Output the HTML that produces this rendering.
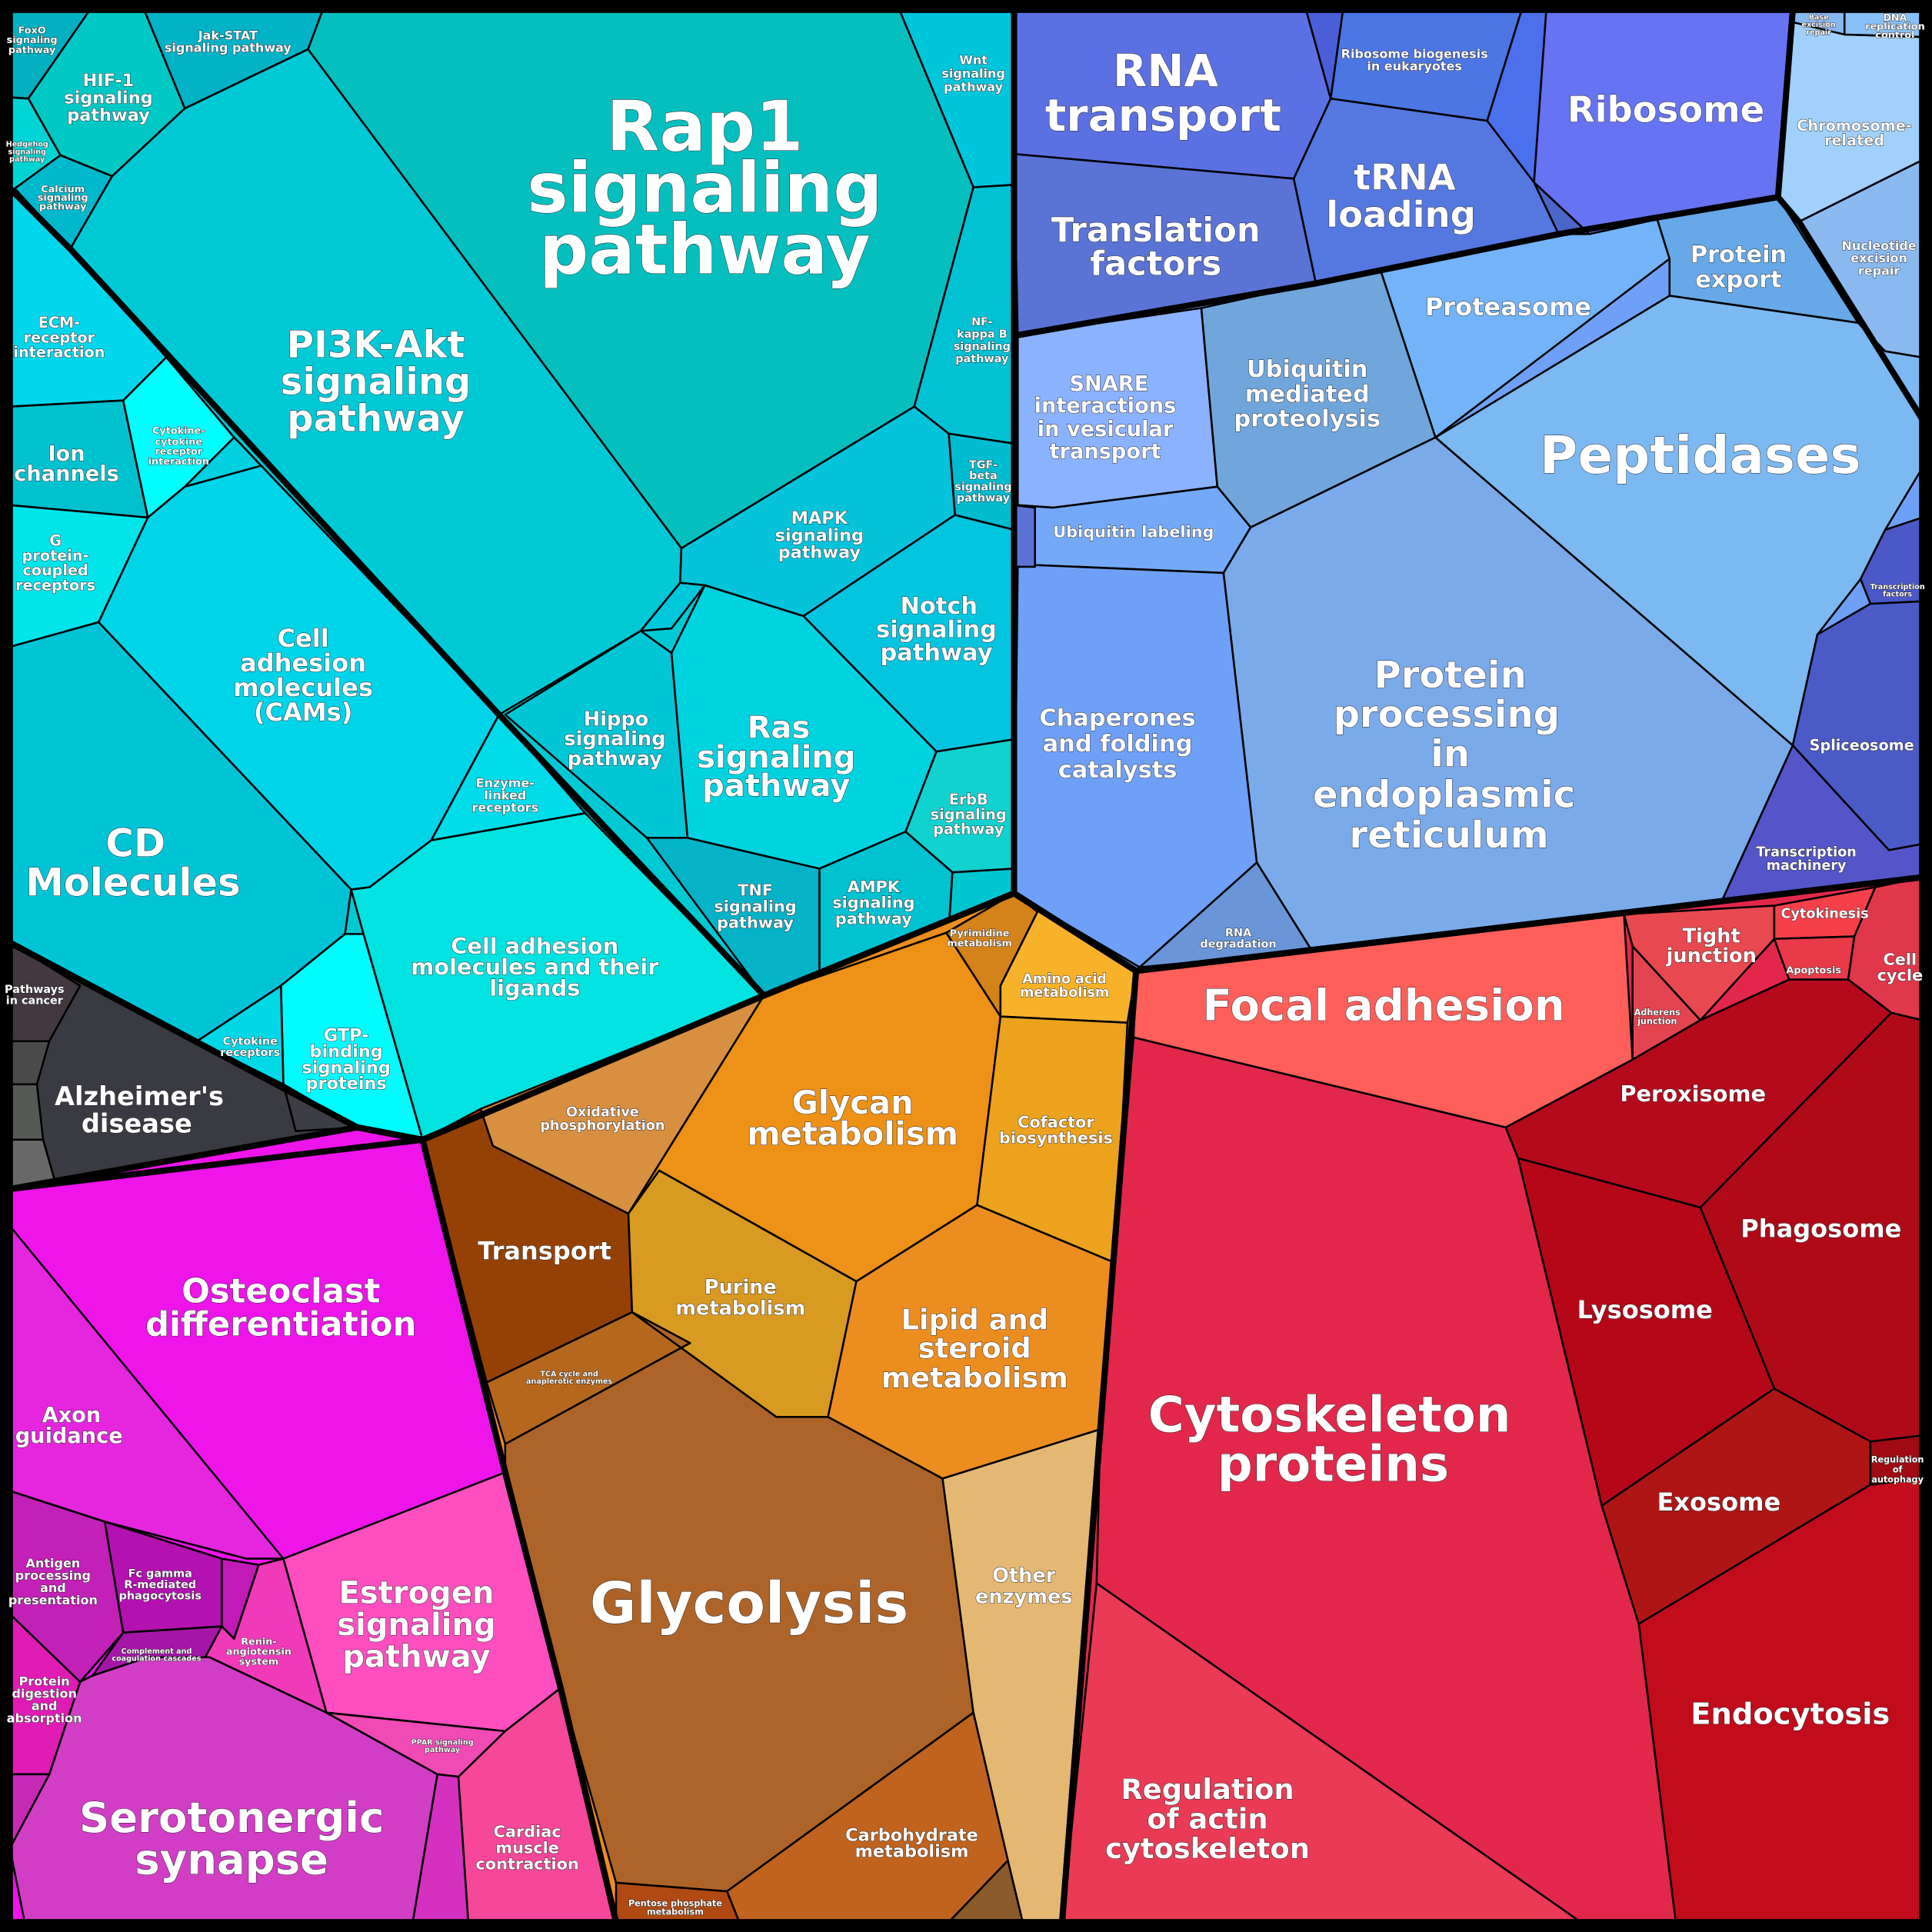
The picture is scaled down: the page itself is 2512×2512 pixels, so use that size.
<!DOCTYPE html>
<html><head><meta charset="utf-8"><style>
html,body{margin:0;padding:0;background:#000;}
svg{display:block;}
text{font-family:"DejaVu Sans","Liberation Sans",sans-serif;font-weight:bold;fill:#fff;text-anchor:middle;paint-order:stroke;stroke:#222;stroke-width:0.6;}
.c{stroke:#000;stroke-width:1.6;stroke-linejoin:round;}
.g{fill:none;stroke:#000;stroke-width:5;stroke-linejoin:round;}
</style></head><body>
<svg width="2512" height="2512" viewBox="0 0 1568 1568" xmlns="http://www.w3.org/2000/svg">
<rect x="0" y="0" width="1568" height="1568" fill="#000"/>
<!-- CYAN -->
<g class="c">
<polygon fill="#00c9d3" points="8,8 823,8 823,725 620,808 343,925 8,765"/>
<polygon fill="#03b0c0" points="8,8 73,8 23,80 8,79"/>
<polygon fill="#00c8c4" points="73,8 117,8 150,88 91,143 49,126 23,80"/>
<polygon fill="#02b2c6" points="117,8 262,8 250,40 150,88"/>
<polygon fill="#00d4d4" points="8,79 23,80 49,126 12,153 8,153"/>
<polygon fill="#00b8cc" points="12,153 49,126 91,143 57,202"/>
<polygon fill="#05bfbf" points="262,8 730,8 790,152 742,330 553,445 250,40"/>
<polygon fill="#00c9d6" points="57,202 91,143 150,88 250,40 553,445 552,473 520,512 405,580"/>
<polygon fill="#00c6dc" points="730,8 823,8 823,150 790,152"/>
<polygon fill="#00c2d4" points="790,152 823,150 823,360 770,352 742,330"/>
<polygon fill="#00bcd0" points="770,352 823,360 823,430 775,418"/>
<polygon fill="#05c3db" points="553,445 742,330 770,352 775,418 652,500 572,475 552,473"/>
<polygon fill="#00c8dc" points="552,473 572,475 545,510 520,512"/>
<polygon fill="#04c5e0" points="652,500 775,418 823,430 823,600 760,610"/>
<polygon fill="#00c6d6" points="520,512 545,530 558,680 525,680 410,580"/>
<polygon fill="#00d3e0" points="545,530 572,475 652,500 760,610 735,675 665,705 558,680"/>
<polygon fill="#12d2d0" points="735,675 760,610 823,600 823,705 773,708"/>
<polygon fill="#00c2d0" points="665,705 735,675 773,708 770,755 665,788"/>
<polygon fill="#04b3c8" points="525,680 558,680 665,705 665,788 620,808"/>
<polygon fill="#00c6d0" points="773,708 823,705 823,725 770,755"/>
<polygon fill="#00d7ec" points="8,153 57,202 135,290 100,325 8,330"/>
<polygon fill="#00c2cf" points="8,330 100,325 120,420 8,410"/>
<polygon fill="#00ffff" points="100,325 135,290 190,355 150,395 120,420"/>
<polygon fill="#00d0e0" points="190,355 195,360 212,378 150,395"/>
<polygon fill="#00e5ea" points="8,410 120,420 80,505 8,525"/>
<polygon fill="#00d4e8" points="120,420 150,395 212,378 405,580 350,682 300,720 285,722 80,505"/>
<polygon fill="#00dcea" points="405,580 475,660 350,682"/>
<polygon fill="#00c4d6" points="8,525 80,505 285,722 280,758 228,800 160,845 8,765"/>
<polygon fill="#00e3e0" points="285,722 300,720 350,682 475,660 620,808 343,925 295,758"/>
<polygon fill="#00fcfc" points="280,758 295,758 343,925 290,915 230,880 228,800"/>
<polygon fill="#00d8e6" points="160,845 228,800 230,880"/>
</g>
<!-- DARK -->
<g class="c">
<polygon fill="#3a3a42" points="8,765 290,915 8,965"/>
<polygon fill="#433840" points="8,765 65,800 40,845 8,845"/>
<polygon fill="#4a4a4a" points="8,845 40,845 30,880 8,880"/>
<polygon fill="#555a55" points="8,880 30,880 35,925 8,925"/>
<polygon fill="#686868" points="8,925 35,925 45,960 8,965"/>
<polygon fill="#3d3d45" points="230,880 290,915 240,918"/>
</g>
<!-- MAGENTA -->
<g class="c">
<polygon fill="#ee14ea" points="8,965 290,915 343,925 410,1195 455,1370 500,1560 8,1560"/>
<polygon fill="#e526de" points="8,995 230,1265 200,1265 85,1235 8,1210"/>
<polygon fill="#c320b8" points="8,1210 85,1235 100,1325 65,1365 8,1310"/>
<polygon fill="#b311b0" points="85,1235 180,1265 180,1320 100,1325"/>
<polygon fill="#a516a8" points="100,1325 180,1320 165,1348 120,1345 75,1360"/>
<polygon fill="#c11ab6" points="180,1265 210,1270 190,1330 180,1320"/>
<polygon fill="#f03aba" points="180,1320 190,1330 210,1270 230,1265 265,1390 170,1345 165,1348"/>
<polygon fill="#ff4ec0" points="230,1265 410,1195 455,1370 410,1405 265,1390"/>
<polygon fill="#d23dc6" points="8,1500 40,1440 65,1365 75,1360 120,1345 170,1345 265,1390 355,1440 335,1560 20,1560"/>
<polygon fill="#e01bb6" points="8,1310 65,1365 40,1440 8,1440"/>
<polygon fill="#c82ab8" points="8,1440 40,1440 8,1500"/>
<polygon fill="#f7479a" points="372,1442 410,1405 455,1370 500,1560 380,1560"/>
<polygon fill="#f04ab5" points="265,1390 410,1405 372,1442 355,1440"/>
<polygon fill="#d530c0" points="355,1440 372,1442 380,1560 335,1560"/>
</g>
<!-- ORANGE -->
<g class="c">
<polygon fill="#ec8d20" points="343,925 620,808 823,725 922,788 893,1160 862,1560 500,1560 455,1370 410,1195"/>
<polygon fill="#d98f40" points="390,900 620,808 510,985 400,930"/>
<polygon fill="#954105" points="343,925 390,900 400,930 510,985 513,1065 395,1122"/>
<polygon fill="#ed9117" points="620,808 768,757 812,825 793,978 695,1040 535,950 510,985"/>
<polygon fill="#d4821a" points="768,757 823,725 842,740 812,800 812,825"/>
<polygon fill="#f8b22a" points="823,725 922,788 915,830 812,825 812,800 842,740"/>
<polygon fill="#eca21c" points="812,825 915,830 905,1025 793,978"/>
<polygon fill="#d99a22" points="510,985 535,950 695,1040 672,1150 630,1150 513,1065"/>
<polygon fill="#ec8d20" points="695,1040 793,978 905,1025 893,1160 765,1200 672,1150"/>
<polygon fill="#b5681d" points="395,1122 513,1065 560,1090 410,1172"/>
<polygon fill="#ae6428" points="410,1172 560,1090 513,1065 630,1150 672,1150 765,1200 790,1390 590,1535 500,1528 455,1370 410,1195"/>
<polygon fill="#e4b872" points="765,1200 893,1160 862,1560 830,1560 818,1510 790,1390"/>
<polygon fill="#c0631e" points="590,1535 790,1390 818,1510 770,1560 600,1560"/>
<polygon fill="#b04a12" points="500,1528 590,1535 600,1560 500,1560"/>
<polygon fill="#8a5a2a" points="770,1560 818,1510 830,1560"/>
</g>
<!-- RED -->
<g class="c">
<polygon fill="#e3274b" points="922,788 1560,712 1560,1560 862,1560 893,1160"/>
<polygon fill="#ff5f5a" points="922,788 1318,742 1325,860 1222,915 920,842"/>
<polygon fill="#e8484f" points="1318,742 1440,735 1440,762 1380,828 1325,768"/>
<polygon fill="#e44450" points="1325,768 1380,828 1325,860"/>
<polygon fill="#f64049" points="1440,735 1522,720 1505,760 1440,762"/>
<polygon fill="#e83a48" points="1440,762 1505,760 1500,795 1452,795"/>
<polygon fill="#e0374a" points="1522,720 1560,712 1560,828 1535,822 1500,795 1505,760"/>
<polygon fill="#b50a1b" points="1222,915 1325,860 1380,828 1452,795 1500,795 1535,822 1380,980 1232,940"/>
<polygon fill="#b00a19" points="1380,980 1535,822 1560,828 1560,1165 1518,1170 1440,1127"/>
<polygon fill="#b50718" points="1232,940 1380,980 1440,1127 1300,1222"/>
<polygon fill="#b01515" points="1300,1222 1440,1127 1518,1170 1518,1205 1330,1318"/>
<polygon fill="#a00a14" points="1518,1170 1560,1165 1560,1200 1518,1205"/>
<polygon fill="#c20b1b" points="1330,1318 1518,1205 1560,1200 1560,1560 1360,1560"/>
<polygon fill="#e3274b" points="920,842 1222,915 1232,940 1300,1222 1330,1318 1360,1560 1283,1560 890,1285 893,1160"/>
<polygon fill="#ea3a55" points="890,1285 1283,1560 862,1560"/>
</g>
<!-- BLUE -->
<g class="c">
<polygon fill="#6fa0f7" points="823,8 1560,8 1560,712 922,788 823,725"/>
<polygon fill="#5b70e2" points="823,8 1060,8 1080,80 1050,145 823,125"/>
<polygon fill="#4a5ed8" points="1060,8 1090,8 1080,80"/>
<polygon fill="#5a73d5" points="823,125 1050,145 1068,230 826,272"/>
<polygon fill="#5577e0" points="1050,145 1080,80 1207,98 1245,148 1265,190 1068,230"/>
<polygon fill="#4c76e4" points="1090,8 1235,8 1207,98 1080,80"/>
<polygon fill="#4a70ee" points="1235,8 1255,8 1245,148 1207,98"/>
<polygon fill="#4a66c8" points="1245,148 1290,190 1265,190"/>
<polygon fill="#6673f2" points="1255,8 1455,8 1443,160 1290,190 1245,148"/>
<polygon fill="#73b3f7" points="1068,230 1120,218 1265,190 1290,190 1345,178 1355,210 1165,355 1120,218"/>
<polygon fill="#66a8e8" points="1345,178 1443,160 1508,262 1355,240 1355,210"/>
<polygon fill="#8bb2fe" points="826,272 975,250 988,395 855,412 826,410"/>
<polygon fill="#70a6dc" points="975,250 1120,218 1165,355 1015,428 988,395"/>
<polygon fill="#73a9f7" points="826,410 855,412 988,395 1015,428 993,465 826,458"/>
<polygon fill="#7cb8f2" points="1165,355 1355,240 1508,262 1530,285 1560,290 1560,380 1530,430 1510,470 1475,515 1455,605"/>
<polygon fill="#7aaaea" points="993,465 1015,428 1165,355 1455,605 1398,730 1065,772 1020,700"/>
<polygon fill="#6fa0f7" points="826,458 993,465 1020,700 925,785 823,725"/>
<polygon fill="#6a95d8" points="925,785 1020,700 1065,772"/>
<polygon fill="#4a5bc8" points="1455,605 1475,515 1518,490 1560,488 1560,685 1533,690"/>
<polygon fill="#5355c8" points="1455,605 1533,690 1560,685 1560,712 1398,730"/>
<polygon fill="#4a58c8" points="1530,430 1560,420 1560,488 1518,490 1510,470"/>
<polygon fill="#a0d0fb" points="1455,8 1497,8 1497,28 1560,30 1560,130 1460,180 1443,160"/>
<polygon fill="#8ab9f0" points="1460,180 1560,130 1560,290 1530,285 1508,262"/>
<polygon fill="#88b8f0" points="1455,8 1497,8 1497,28 1455,18"/>
<polygon fill="#88c0f8" points="1497,8 1560,8 1560,30 1497,28"/>
<polygon fill="#5a73d5" points="823,410 840,412 840,460 823,460"/>
</g>
<!-- GROUP BORDERS -->
<polygon class="g" points="8,8 823,8 823,725 620,808 343,925 290,915 8,765"/>
<polyline class="g" points="8,153 57,202 405,580 620,808"/>
<polygon class="g" points="8,765 290,915 343,925 8,965"/>
<polygon class="g" points="8,965 290,915 343,925 410,1195 455,1370 500,1560 8,1560"/>
<polygon class="g" points="343,925 620,808 823,725 922,788 893,1160 862,1560 500,1560 455,1370 410,1195"/>
<polygon class="g" points="922,788 1560,712 1560,1560 862,1560 893,1160"/>
<polygon class="g" points="823,8 1560,8 1560,712 922,788 823,725"/>
<polyline class="g" points="1443,160 1460,180 1560,340"/>
<polyline class="g" points="826,272 1068,230 1265,190 1443,160 1455,8"/>
<rect x="4" y="4" width="1560" height="1560" fill="none" stroke="#000" stroke-width="8"/>

<!-- TEXT -->
<g>
<text x="572" y="122" font-size="56">Rap1</text>
<text x="572" y="172" font-size="56">signaling</text>
<text x="572" y="222" font-size="56">pathway</text>
<text x="305" y="290" font-size="30">PI3K-Akt</text>
<text x="305" y="320" font-size="30">signaling</text>
<text x="305" y="350" font-size="30">pathway</text>
<text x="88" y="70" font-size="14">HIF-1</text>
<text x="88" y="84" font-size="14">signaling</text>
<text x="88" y="98" font-size="14">pathway</text>
<text x="26" y="27" font-size="8">FoxO</text><text x="26" y="35" font-size="8">signaling</text><text x="26" y="43" font-size="8">pathway</text>
<text x="185" y="32" font-size="10">Jak-STAT</text><text x="185" y="42" font-size="10">signaling pathway</text>
<text x="22" y="119" font-size="6">Hedgehog</text><text x="22" y="125" font-size="6">signaling</text><text x="22" y="131" font-size="6">pathway</text>
<text x="51" y="156" font-size="8">Calcium</text><text x="51" y="163" font-size="8">signaling</text><text x="51" y="170" font-size="8">pathway</text>
<text x="790" y="52" font-size="10">Wnt</text><text x="790" y="63" font-size="10">signaling</text><text x="790" y="74" font-size="10">pathway</text>
<text x="797" y="264" font-size="9">NF-</text><text x="797" y="274" font-size="9">kappa B</text><text x="797" y="284" font-size="9">signaling</text><text x="797" y="294" font-size="9">pathway</text>
<text x="798" y="380" font-size="9">TGF-</text><text x="798" y="389" font-size="9">beta</text><text x="798" y="398" font-size="9">signaling</text><text x="798" y="407" font-size="9">pathway</text>
<text x="665" y="425" font-size="14">MAPK</text><text x="665" y="439" font-size="14">signaling</text><text x="665" y="453" font-size="14">pathway</text>
<text x="762" y="498" font-size="19">Notch</text><text x="760" y="517" font-size="19">signaling</text><text x="760" y="536" font-size="19">pathway</text>
<text x="500" y="589" font-size="16">Hippo</text><text x="499" y="605" font-size="16">signaling</text><text x="499" y="621" font-size="16">pathway</text>
<text x="632" y="599" font-size="25">Ras</text><text x="630" y="623" font-size="25">signaling</text><text x="630" y="646" font-size="25">pathway</text>
<text x="786" y="653" font-size="12">ErbB</text><text x="786" y="665" font-size="12">signaling</text><text x="786" y="677" font-size="12">pathway</text>
<text x="709" y="724" font-size="13">AMPK</text><text x="709" y="737" font-size="13">signaling</text><text x="709" y="750" font-size="13">pathway</text>
<text x="613" y="727" font-size="13">TNF</text><text x="613" y="740" font-size="13">signaling</text><text x="613" y="753" font-size="13">pathway</text>
<text x="48" y="266" font-size="12">ECM-</text><text x="48" y="278" font-size="12">receptor</text><text x="48" y="290" font-size="12">interaction</text>
<text x="54" y="374" font-size="17">Ion</text><text x="54" y="390" font-size="17">channels</text>
<text x="145" y="352" font-size="8">Cytokine-</text><text x="145" y="361" font-size="8">cytokine</text><text x="145" y="369" font-size="8">receptor</text><text x="145" y="377" font-size="8">interaction</text>
<text x="45" y="443" font-size="12">G</text><text x="45" y="455" font-size="12">protein-</text><text x="45" y="467" font-size="12">coupled</text><text x="45" y="479" font-size="12">receptors</text>
<text x="246" y="525" font-size="20">Cell</text><text x="246" y="545" font-size="20">adhesion</text><text x="246" y="565" font-size="20">molecules</text><text x="246" y="585" font-size="20">(CAMs)</text>
<text x="410" y="639" font-size="10">Enzyme-</text><text x="410" y="649" font-size="10">linked</text><text x="410" y="659" font-size="10">receptors</text>
<text x="110" y="695" font-size="31">CD</text><text x="108" y="727" font-size="31">Molecules</text>
<text x="434" y="774" font-size="18">Cell adhesion</text><text x="434" y="791" font-size="18">molecules and their</text><text x="434" y="808" font-size="18">ligands</text>
<text x="281" y="845" font-size="14">GTP-</text><text x="281" y="858" font-size="14">binding</text><text x="281" y="871" font-size="14">signaling</text><text x="281" y="884" font-size="14">proteins</text>
<text x="203" y="848" font-size="9">Cytokine</text><text x="203" y="857" font-size="9">receptors</text>
<text x="28" y="806" font-size="9">Pathways</text><text x="28" y="815" font-size="9">in cancer</text>
<text x="113" y="897" font-size="21">Alzheimer's</text><text x="111" y="919" font-size="21">disease</text>
<text x="228" y="1057" font-size="27">Osteoclast</text><text x="228" y="1084" font-size="27">differentiation</text>
<text x="58" y="1154" font-size="17">Axon</text><text x="56" y="1171" font-size="17">guidance</text>
<text x="43" y="1272" font-size="10">Antigen</text><text x="43" y="1282" font-size="10">processing</text><text x="43" y="1292" font-size="10">and</text><text x="43" y="1302" font-size="10">presentation</text>
<text x="130" y="1280" font-size="9">Fc gamma</text><text x="130" y="1289" font-size="9">R-mediated</text><text x="130" y="1298" font-size="9">phagocytosis</text>
<text x="127" y="1342" font-size="6">Complement and</text><text x="127" y="1348" font-size="6">coagulation cascades</text>
<text x="210" y="1335" font-size="8">Renin-</text><text x="210" y="1343" font-size="8">angiotensin</text><text x="210" y="1351" font-size="8">system</text>
<text x="338" y="1301" font-size="25">Estrogen</text><text x="338" y="1327" font-size="25">signaling</text><text x="338" y="1353" font-size="25">pathway</text>
<text x="36" y="1368" font-size="10">Protein</text><text x="36" y="1378" font-size="10">digestion</text><text x="36" y="1388" font-size="10">and</text><text x="36" y="1398" font-size="10">absorption</text>
<text x="359" y="1416" font-size="6">PPAR signaling</text><text x="359" y="1422" font-size="6">pathway</text>
<text x="188" y="1487" font-size="34">Serotonergic</text><text x="188" y="1521" font-size="34">synapse</text>
<text x="428" y="1491" font-size="13">Cardiac</text><text x="428" y="1504" font-size="13">muscle</text><text x="428" y="1517" font-size="13">contraction</text>
<text x="489" y="906" font-size="11">Oxidative</text><text x="489" y="917" font-size="11">phosphorylation</text>
<text x="442" y="1022" font-size="20">Transport</text>
<text x="692" y="904" font-size="26">Glycan</text><text x="692" y="929" font-size="26">metabolism</text>
<text x="795" y="760" font-size="8">Pyrimidine</text><text x="795" y="768" font-size="8">metabolism</text>
<text x="864" y="798" font-size="11">Amino acid</text><text x="864" y="809" font-size="11">metabolism</text>
<text x="857" y="915" font-size="13">Cofactor</text><text x="857" y="928" font-size="13">biosynthesis</text>
<text x="601" y="1050" font-size="16">Purine</text><text x="601" y="1067" font-size="16">metabolism</text>
<text x="791" y="1079" font-size="23">Lipid and</text><text x="791" y="1102" font-size="23">steroid</text><text x="791" y="1126" font-size="23">metabolism</text>
<text x="462" y="1117" font-size="6">TCA cycle and</text><text x="462" y="1123" font-size="6">anaplerotic enzymes</text>
<text x="608" y="1317" font-size="46">Glycolysis</text>
<text x="831" y="1284" font-size="16">Other</text><text x="831" y="1301" font-size="16">enzymes</text>
<text x="740" y="1494" font-size="14">Carbohydrate</text><text x="740" y="1507" font-size="14">metabolism</text>
<text x="548" y="1547" font-size="7">Pentose phosphate</text><text x="548" y="1554" font-size="7">metabolism</text>
<text x="1123" y="828" font-size="35">Focal adhesion</text>
<text x="1389" y="765" font-size="16">Tight</text><text x="1389" y="781" font-size="16">junction</text>
<text x="1345" y="824" font-size="7">Adherens</text><text x="1345" y="831" font-size="7">junction</text>
<text x="1481" y="745" font-size="11">Cytokinesis</text>
<text x="1472" y="790" font-size="8">Apoptosis</text>
<text x="1542" y="783" font-size="13">Cell</text><text x="1542" y="796" font-size="13">cycle</text>
<text x="1374" y="894" font-size="18">Peroxisome</text>
<text x="1478" y="1004" font-size="20">Phagosome</text>
<text x="1335" y="1070" font-size="20">Lysosome</text>
<text x="1395" y="1226" font-size="20">Exosome</text>
<text x="1540" y="1187" font-size="7">Regulation</text><text x="1540" y="1195" font-size="7">of</text><text x="1540" y="1203" font-size="7">autophagy</text>
<text x="1453" y="1399" font-size="24">Endocytosis</text>
<text x="1079" y="1162" font-size="40">Cytoskeleton</text><text x="1082" y="1202" font-size="40">proteins</text>
<text x="980" y="1460" font-size="23">Regulation</text><text x="980" y="1484" font-size="23">of actin</text><text x="980" y="1508" font-size="23">cytoskeleton</text>
<text x="946" y="70" font-size="36">RNA</text><text x="944" y="106" font-size="36">transport</text>
<text x="1148" y="47" font-size="10">Ribosome biogenesis</text><text x="1148" y="57" font-size="10">in eukaryotes</text>
<text x="1352" y="99" font-size="29">Ribosome</text>
<text x="1140" y="154" font-size="29">tRNA</text><text x="1137" y="184" font-size="29">loading</text>
<text x="938" y="196" font-size="27">Translation</text><text x="938" y="223" font-size="27">factors</text>
<text x="1224" y="256" font-size="20">Proteasome</text>
<text x="1411" y="213" font-size="19">Protein</text><text x="1411" y="233" font-size="19">export</text>
<text x="1505" y="106" font-size="12">Chromosome-</text><text x="1505" y="118" font-size="12">related</text>
<text x="1525" y="203" font-size="10">Nucleotide</text><text x="1525" y="213" font-size="10">excision</text><text x="1525" y="223" font-size="10">repair</text>
<text x="1476" y="16" font-size="6">Base</text><text x="1476" y="22" font-size="6">excision</text><text x="1476" y="28" font-size="6">repair</text>
<text x="1538" y="17" font-size="8">DNA</text><text x="1538" y="24" font-size="8">replication</text><text x="1538" y="31" font-size="8">control</text>
<text x="900" y="317" font-size="17">SNARE</text><text x="897" y="335" font-size="17">interactions</text><text x="897" y="354" font-size="17">in vesicular</text><text x="897" y="372" font-size="17">transport</text>
<text x="1061" y="306" font-size="19">Ubiquitin</text><text x="1061" y="326" font-size="19">mediated</text><text x="1061" y="346" font-size="19">proteolysis</text>
<text x="920" y="436" font-size="13">Ubiquitin labeling</text>
<text x="1380" y="384" font-size="42">Peptidases</text>
<text x="1177" y="558" font-size="30">Protein</text><text x="1174" y="590" font-size="30">processing</text><text x="1177" y="622" font-size="30">in</text><text x="1172" y="655" font-size="30">endoplasmic</text><text x="1176" y="688" font-size="30">reticulum</text>
<text x="907" y="589" font-size="19">Chaperones</text><text x="907" y="610" font-size="19">and folding</text><text x="907" y="631" font-size="19">catalysts</text>
<text x="1005" y="760" font-size="9">RNA</text><text x="1005" y="769" font-size="9">degradation</text>
<text x="1511" y="609" font-size="12">Spliceosome</text>
<text x="1466" y="695" font-size="11">Transcription</text><text x="1466" y="706" font-size="11">machinery</text>
<text x="1540" y="478" font-size="6">Transcription</text><text x="1540" y="484" font-size="6">factors</text>
</g>
</svg>
</body></html>
